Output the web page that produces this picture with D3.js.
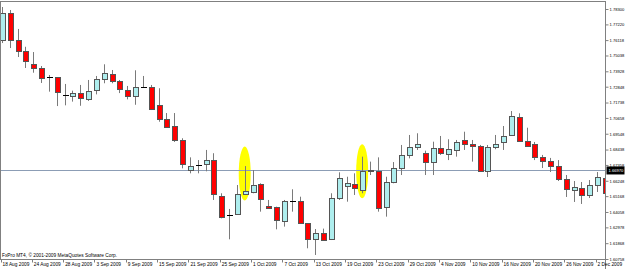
<!DOCTYPE html>
<html>
<head>
<meta charset="utf-8">
<script src="https://cdn.jsdelivr.net/npm/d3@7"></script>
<style>
  body { margin: 0; background: #fff; }
  svg { display: block; }
  text { font-family: "Liberation Sans", Arial, sans-serif; }
</style>
</head>
<body>
<svg id="chart"></svg>
<script>
// Daily bars (78 bars)
var opens = [1.7617,1.7804,1.7615,1.7537,1.7444,1.7416,1.7351,1.7351,1.7229,1.7225,
  1.7243,1.7203,1.7257,1.7337,1.7374,1.7323,1.7262,1.7222,1.7285,1.7280,
  1.7154,1.7060,1.7009,1.6911,1.6700,1.6735,1.6739,1.6770,1.6520,1.6385,
  1.6389,1.6532,1.6548,1.6600,1.6448,1.6439,1.6345,1.6483,1.6483,1.6326,
  1.6214,1.6256,1.6214,1.6502,1.6588,1.6600,1.6565,1.6700,1.6693,1.6436,
  1.6614,1.6712,1.6803,1.6860,1.6820,1.6754,1.6853,1.6813,1.6841,1.6909,
  1.6883,1.6871,1.6693,1.6860,1.6895,1.6946,1.7074,1.6906,1.6883,1.6794,
  1.6766,1.6728,1.6635,1.6562,1.6572,1.6523,1.6595,1.6646];
var highs = [1.7844,1.7823,1.7690,1.7565,1.7528,1.7430,1.7367,1.7351,1.7304,1.7257,
  1.7297,1.7332,1.7360,1.7442,1.7402,1.7332,1.7290,1.7400,1.7360,1.7297,
  1.7274,1.7100,1.7100,1.6923,1.6789,1.6770,1.6841,1.6818,1.6537,1.6427,
  1.6595,1.6728,1.6700,1.6607,1.6490,1.6443,1.6490,1.6565,1.6513,1.6326,
  1.6286,1.6289,1.6537,1.6684,1.6653,1.6677,1.6794,1.6759,1.6789,1.6653,
  1.6756,1.6876,1.6946,1.6958,1.6836,1.6899,1.6939,1.6916,1.6911,1.6969,
  1.6911,1.6876,1.6876,1.6946,1.7009,1.7114,1.7098,1.6997,1.6897,1.6806,
  1.6785,1.6770,1.6665,1.6623,1.6616,1.6630,1.6686,1.6658];
var lows = [1.7591,1.7556,1.7493,1.7416,1.7383,1.7311,1.7250,1.7149,1.7154,1.7180,
  1.7151,1.7185,1.7231,1.7309,1.7309,1.7240,1.7196,1.7158,1.7280,1.7121,
  1.7039,1.6995,1.6897,1.6712,1.6677,1.6677,1.6691,1.6490,1.6361,1.6214,
  1.6385,1.6525,1.6537,1.6408,1.6434,1.6284,1.6303,1.6408,1.6322,1.6151,
  1.6104,1.6202,1.6209,1.6490,1.6478,1.6525,1.6537,1.6665,1.6408,1.6373,
  1.6607,1.6665,1.6782,1.6841,1.6665,1.6665,1.6806,1.6770,1.6794,1.6841,
  1.6759,1.6688,1.6651,1.6846,1.6841,1.6939,1.6904,1.6862,1.6770,1.6714,
  1.6686,1.6623,1.6511,1.6476,1.6462,1.6504,1.6546,1.6532];
var closes = [1.7804,1.7617,1.7535,1.7465,1.7418,1.7348,1.7351,1.7243,1.7229,1.7243,
  1.7206,1.7257,1.7337,1.7379,1.7325,1.7266,1.7219,1.7285,1.7285,1.7126,
  1.7056,1.7004,1.6911,1.6740,1.6730,1.6735,1.6770,1.6530,1.6373,1.6385,
  1.6530,1.6551,1.6595,1.6495,1.6436,1.6345,1.6483,1.6483,1.6326,1.6214,
  1.6256,1.6209,1.6502,1.6642,1.6607,1.6569,1.6695,1.6691,1.6436,1.6614,
  1.6712,1.6803,1.6860,1.6881,1.6759,1.6853,1.6815,1.6846,1.6895,1.6883,
  1.6869,1.6693,1.6860,1.6883,1.6939,1.7079,1.6906,1.6874,1.6794,1.6766,
  1.6728,1.6635,1.6565,1.6583,1.6523,1.6593,1.6653,1.6544];

// date labels, one every 4 bars
var dateLabels = ["18 Aug 2009","24 Aug 2009","28 Aug 2009","3 Sep 2009","9 Sep 2009",
  "15 Sep 2009","21 Sep 2009","25 Sep 2009","1 Oct 2009","7 Oct 2009",
  "13 Oct 2009","19 Oct 2009","23 Oct 2009","29 Oct 2009","4 Nov 2009",
  "10 Nov 2009","16 Nov 2009","20 Nov 2009","26 Nov 2009","2 Dec 2009"];

// price scale labels as printed by MT4
var priceTicks = [1.78300,1.77220,1.76118,1.75038,1.73928,1.72848,1.71738,1.70658,
  1.69548,1.68438,1.67358,1.66248,1.65168,1.64058,1.62978,1.61868,1.60758];

// horizontal price line and the two highlighted bars
var linePrice = 1.66970;
var highlightBars = [31, 46];
var highlightPrices = [1.6675, 1.6692];

var width = 625, height = 269;
var plot = {left: 0, right: 605.5, top: 1, bottom: 259.5};

var bars = opens.map(function(o, i) {
  return {i: i, o: o, h: highs[i], l: lows[i], c: closes[i]};
});

var svg = d3.select("#chart")
    .attr("width", width)
    .attr("height", height);

// Scales
var xScale = d3.scalePoint()
    .domain(d3.range(bars.length))
    .range([2, 604.9]);
var yScale = d3.scaleLinear()
    .domain([1.60758, 1.78300])
    .range([259, 9]);

var clip = svg.append("clipPath").attr("id", "plotclip")
  .append("rect")
    .attr("x", plot.left)
    .attr("y", plot.top)
    .attr("width", plot.right - plot.left)
    .attr("height", plot.bottom - plot.top);

var g = svg.append("g").attr("clip-path", "url(#plotclip)");

// yellow highlight ellipses (drawn under the bars)
g.selectAll(".hl")
  .data(highlightBars)
  .enter().append("ellipse")
    .attr("cx", function(d) { return xScale(d); })
    .attr("cy", function(d, k) { return yScale(highlightPrices[k]); })
    .attr("rx", 6)
    .attr("ry", 27)
    .style("fill", "#ffff00");

// price line
g.append("line")
    .attr("x1", plot.left).attr("x2", plot.right)
    .attr("y1", Math.round(yScale(linePrice)) + 0.5)
    .attr("y2", Math.round(yScale(linePrice)) + 0.5)
    .style("stroke", "#8c9db5")
    .style("stroke-width", 1);

// wicks
g.selectAll(".wick")
  .data(bars)
  .enter().append("line")
    .attr("class", "wick")
    .attr("x1", function(d) { return Math.round(xScale(d.i)) + 0.5; })
    .attr("x2", function(d) { return Math.round(xScale(d.i)) + 0.5; })
    .attr("y1", function(d) { return yScale(d.h); })
    .attr("y2", function(d) { return yScale(d.l); })
    .style("stroke", "#7a7a7a")
    .style("stroke-width", 1);

// bodies
g.selectAll(".body")
  .data(bars.filter(function(d) { return d.o != d.c; }))
  .enter().append("rect")
    .attr("class", "body")
    .attr("x", function(d) { return Math.round(xScale(d.i)) - 2 + 0.5; })
    .attr("y", function(d) { return Math.round(yScale(Math.max(d.o, d.c))) + 0.5; })
    .attr("width", 5)
    .attr("height", function(d) { return Math.max(1, Math.round(yScale(Math.min(d.o, d.c)) - yScale(Math.max(d.o, d.c)))); })
    .style("fill", function(d) { return d.c > d.o ? "#aeeeee" : "#ff0000"; })
    .style("stroke", "#555555")
    .style("stroke-width", 1);

// doji bars
g.selectAll(".doji")
  .data(bars.filter(function(d) { return d.o == d.c; }))
  .enter().append("line")
    .attr("class", "doji")
    .attr("x1", function(d) { return Math.round(xScale(d.i)) - 2; })
    .attr("x2", function(d) { return Math.round(xScale(d.i)) + 4; })
    .attr("y1", function(d) { return Math.round(yScale(d.o)) + 0.5; })
    .attr("y2", function(d) { return Math.round(yScale(d.o)) + 0.5; })
    .style("stroke", "#000")
    .style("stroke-width", 1);

// frame: top, left, bottom, right
var frame = svg.append("g").style("stroke", "#808080").style("stroke-width", 1);
frame.append("line").attr("x1", 0).attr("x2", plot.right).attr("y1", 1.5).attr("y2", 1.5);
frame.append("line").attr("x1", 0.5).attr("x2", 0.5).attr("y1", 1).attr("y2", plot.bottom);
frame.append("line").attr("x1", 0).attr("x2", plot.right).attr("y1", plot.bottom).attr("y2", plot.bottom);
frame.append("line").attr("x1", plot.right).attr("x2", plot.right).attr("y1", 1).attr("y2", height);

// right price axis
var yAxis = d3.axisRight(yScale)
    .tickValues(priceTicks)
    .tickSize(3)
    .tickPadding(1)
    .tickFormat(d3.format(".5f"));
var ya = svg.append("g")
    .attr("transform", "translate(" + plot.right + ",0)")
    .call(yAxis);
ya.select(".domain").remove();
ya.selectAll("line").style("stroke", "#808080");
ya.selectAll("text")
    .style("font-size", "4.1px")
    .style("fill", "#000");

// price line label
var ly = yScale(linePrice);
svg.append("rect")
    .attr("x", plot.right + 1).attr("y", ly - 4)
    .attr("width", 18).attr("height", 8)
    .style("fill", "#000");
svg.append("text")
    .attr("x", plot.right + 3).attr("y", ly + 1.5)
    .style("font-size", "4.1px")
    .style("fill", "#fff")
    .text(d3.format(".5f")(linePrice));

// bottom date axis, tick every 4 bars
var dateIdx = dateLabels.map(function(d, k) { return k * 4; });
var xa = svg.append("g");
xa.selectAll(".dtick")
  .data(dateIdx)
  .enter().append("line")
    .attr("x1", function(d) { return Math.round(xScale(d) - 1.5) + 0.5; })
    .attr("x2", function(d) { return Math.round(xScale(d) - 1.5) + 0.5; })
    .attr("y1", plot.bottom)
    .attr("y2", plot.bottom + 3)
    .style("stroke", "#808080");
xa.selectAll(".dlabel")
  .data(dateIdx)
  .enter().append("text")
    .attr("x", function(d) { return xScale(d) + 0.5; })
    .attr("y", 265.5)
    .style("font-size", "4.8px")
    .style("fill", "#000")
    .text(function(d, k) { return dateLabels[k]; });

// copyright note
svg.append("text")
    .attr("x", 2)
    .attr("y", 256.5)
    .style("font-size", "4.8px")
    .style("fill", "#000")
    .text("FxPro MT4, \u00a9 2001-2009 MetaQuotes Software Corp.");
</script>
</body>
</html>
